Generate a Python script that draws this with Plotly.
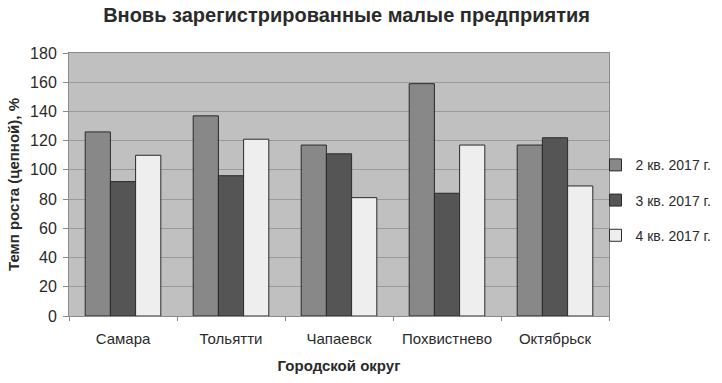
import plotly.graph_objects as go

categories = ["Самара", "Тольятти", "Чапаевск", "Похвистнево", "Октябрьск"]
series_names = ["2 кв. 2017 г.", "3 кв. 2017 г.", "4 кв. 2017 г."]
q2_values = [126, 137, 117, 159, 117]
q3_values = [92, 96, 111, 84, 122]
q4_values = [110, 121, 81, 117, 89]
y_ticks = [0, 20, 40, 60, 80, 100, 120, 140, 160, 180]

colors = ["#888888", "#555555", "#eeeeee"]
font = "Liberation Sans, Arial, sans-serif"
txt = "#2a2a2a"

fig = go.Figure()
for name, vals, col in zip(series_names, [q2_values, q3_values, q4_values], colors):
    fig.add_trace(go.Bar(
        x=categories, y=vals, name=name, legendgroup=name,
        marker=dict(color=col, line=dict(color="#2a2a2a", width=1)),
    ))

fig.update_layout(
    width=722, height=383,
    margin=dict(l=69, r=113, t=53, b=67, autoexpand=False),
    paper_bgcolor="white", plot_bgcolor="#c0c0c0",
    barmode="group", bargap=0.3, bargroupgap=0,
    font=dict(family=font, size=15, color=txt),
    title=dict(text="<b>Вновь зарегистрированные малые предприятия</b>",
               x=0.48, xanchor="center", y=0.961, yanchor="middle",
               font=dict(size=20, color=txt)),
    legend=dict(x=0.975, xanchor="left", y=0.44, yanchor="middle",
                traceorder="grouped", tracegroupgap=14,
                font=dict(size=14, color=txt), bgcolor="rgba(0,0,0,0)"),
    showlegend=True,
)
fig.update_yaxes(
    range=[0, 180], tickvals=y_ticks, gridcolor="#9a9a9a", gridwidth=1,
    showline=True, linecolor="#8a8a8a", mirror=True,
    ticks="outside", ticklen=5, tickcolor="#8a8a8a", automargin=False,
    ticklabelstandoff=3,
    tickfont=dict(size=16, color=txt),
    title=dict(text="<b>Темп роста (цепной), %</b>", font=dict(size=15, color=txt), standoff=6),
    zeroline=False,
)
fig.update_xaxes(
    showline=True, linecolor="#8a8a8a", mirror=True, automargin=False,
    ticks="outside", ticklen=4, tickcolor="#8a8a8a", tickson="boundaries",
    ticklabelstandoff=9,
    tickfont=dict(size=15, color=txt),
    title=dict(text="<b>Городской округ</b>", font=dict(size=15, color=txt), standoff=14),
)
fig.write_html("out.html", config={"displayModeBar": False},
               post_script="document.body.style.margin='0';")
